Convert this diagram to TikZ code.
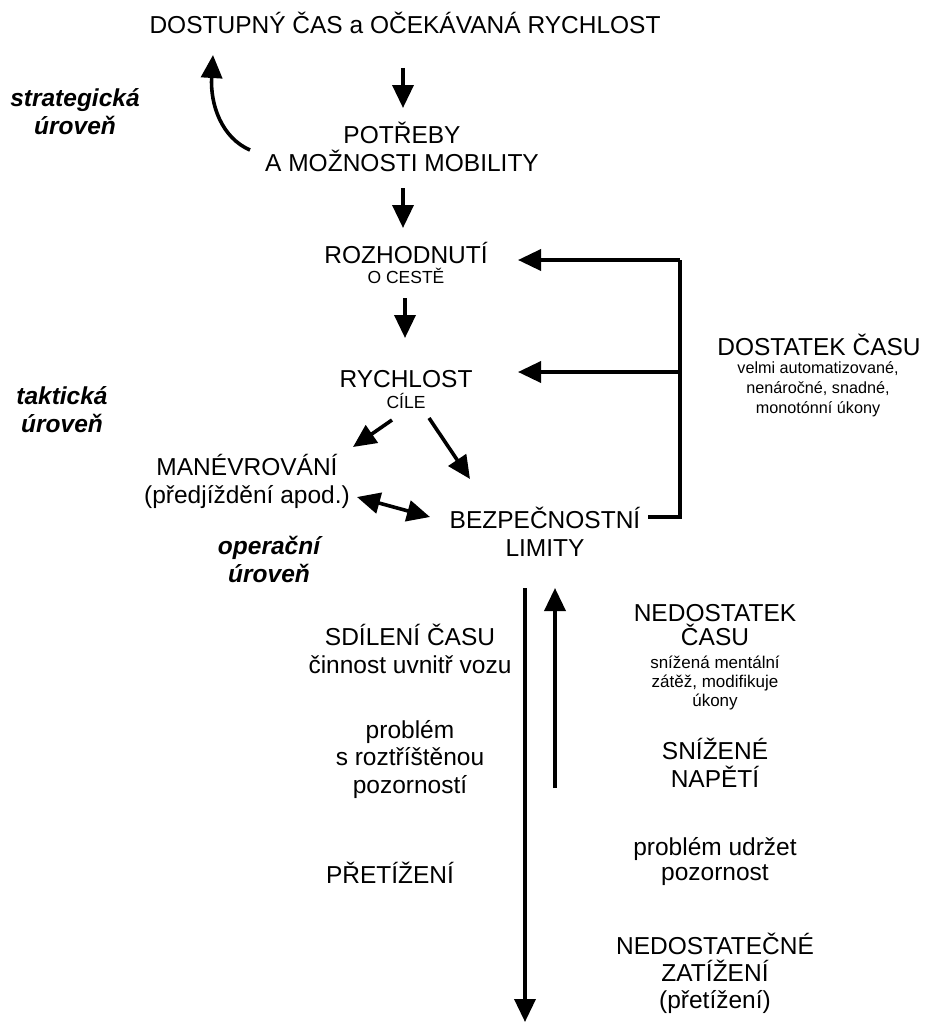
\documentclass[tikz,border=0pt]{standalone}
\usepackage{fontspec}
\setmainfont{Liberation Sans}
\usetikzlibrary{arrows.meta}
\begin{document}
\begin{tikzpicture}[x=1pt,y=-1pt,
  big/.style={font=\fontsize{24.5}{28}\selectfont, align=center, inner sep=0pt, anchor=base},
  small/.style={font=\fontsize{16.5}{20}\selectfont, align=center, inner sep=0pt, anchor=base},
  lvl/.style={font=\fontsize{24.5}{28}\selectfont\bfseries\itshape, align=center, inner sep=0pt, anchor=base},
  arr/.style={line width=3.6pt, -{Triangle[length=23pt,width=21pt]}},
  darr/.style={line width=3.6pt, {Triangle[length=23pt,width=21pt]}-{Triangle[length=23pt,width=21pt]}},
  ln/.style={line width=3.6pt}]
\useasboundingbox (0,0) rectangle (928,1025);
\fill[white] (0,0) rectangle (928,1025);

% multi-line nodes: anchor base = baseline of the last line
\node[big] (top) at (405,34) {DOSTUPNÝ ČAS a OČEKÁVANÁ RYCHLOST};
\node[lvl] (strat) at (75,134) {strategická\\úroveň};
\node[big] (potr) at (402,171) {POTŘEBY\\A MOŽNOSTI MOBILITY};
\node[big] (roz) at (406,263) {ROZHODNUTÍ};
\node[small, font=\fontsize{17.5}{20}\selectfont] (cesta) at (406,283) {O CESTĚ};
\node[big] (rych) at (406,387) {RYCHLOST};
\node[small, font=\fontsize{17.5}{20}\selectfont] (cile) at (406,408) {CÍLE};
\node[lvl] (takt) at (62,432) {taktická\\úroveň};
\node[big] (man) at (247,503) {MANÉVROVÁNÍ\\(předjíždění apod.)};
\node[big] (bez) at (545,556) {BEZPEČNOSTNÍ\\LIMITY};
\node[lvl] (oper) at (269,582) {operační\\úroveň};
\node[big] (dost) at (819,355) {DOSTATEK ČASU};
\node[small, font=\fontsize{16.2}{20}\selectfont] (dostsub) at (818,413) {velmi automatizované,\\nenáročné, snadné,\\monotónní úkony};
\node[big] (sdil) at (410,673) {SDÍLENÍ ČASU\\činnost uvnitř vozu};
\node[big, font=\fontsize{24.5}{27.5}\selectfont] (probl) at (410,793) {problém\\s roztříštěnou\\pozorností};
\node[big] (pret) at (390,883) {PŘETÍŽENÍ};
\node[big, font=\fontsize{24.5}{24}\selectfont] (nedo) at (715,645) {NEDOSTATEK\\ČASU};
\node[small, font=\fontsize{17}{19}\selectfont] (nedosub) at (715,706) {snížená mentální\\zátěž, modifikuje\\úkony};
\node[big] (sniz) at (715,787) {SNÍŽENÉ\\NAPĚTÍ};
\node[big, font=\fontsize{24.5}{25}\selectfont] (udr) at (715,880) {problém udržet\\pozornost};
\node[big, font=\fontsize{24.5}{27}\selectfont] (nedz) at (715,1008) {NEDOSTATEČNÉ\\ZATÍŽENÍ\\(přetížení)};

% arrow end points
\coordinate (c1a) at (250,150); \coordinate (c1b) at (213,55);
\coordinate (a1a) at (403,68);  \coordinate (a1b) at (403,108);
\coordinate (a2a) at (403,188); \coordinate (a2b) at (403,228);
\coordinate (a3a) at (405,298); \coordinate (a3b) at (405,338);
\coordinate (fbA) at (648,517); \coordinate (fbC) at (680,517);
\coordinate (fbT) at (680,260); \coordinate (fbM) at (680,372);
\coordinate (fbTt) at (518,260); \coordinate (fbMt) at (518,372);
\coordinate (d1a) at (392,420); \coordinate (d1b) at (353,447);
\coordinate (d2a) at (429,418); \coordinate (d2b) at (470,479);
\coordinate (d3a) at (357,497); \coordinate (d3b) at (430,517);
\coordinate (v1a) at (525,588); \coordinate (v1b) at (525,1022);
\coordinate (v2a) at (555,788); \coordinate (v2b) at (555,588);

\draw[arr] (c1a) .. controls (222,138) and (210,105) .. (c1b);
\draw[arr] (a1a) -- (a1b);
\draw[arr] (a2a) -- (a2b);
\draw[arr] (a3a) -- (a3b);
\draw[ln] (fbA) -- (fbC) -- (fbT);
\draw[arr] (fbT) -- (fbTt);
\draw[arr] (fbM) -- (fbMt);
\draw[arr] (d1a) -- (d1b);
\draw[arr] (d2a) -- (d2b);
\draw[darr] (d3a) -- (d3b);
\draw[arr] (v1a) -- (v1b);
\draw[arr] (v2a) -- (v2b);
\end{tikzpicture}
\end{document}
